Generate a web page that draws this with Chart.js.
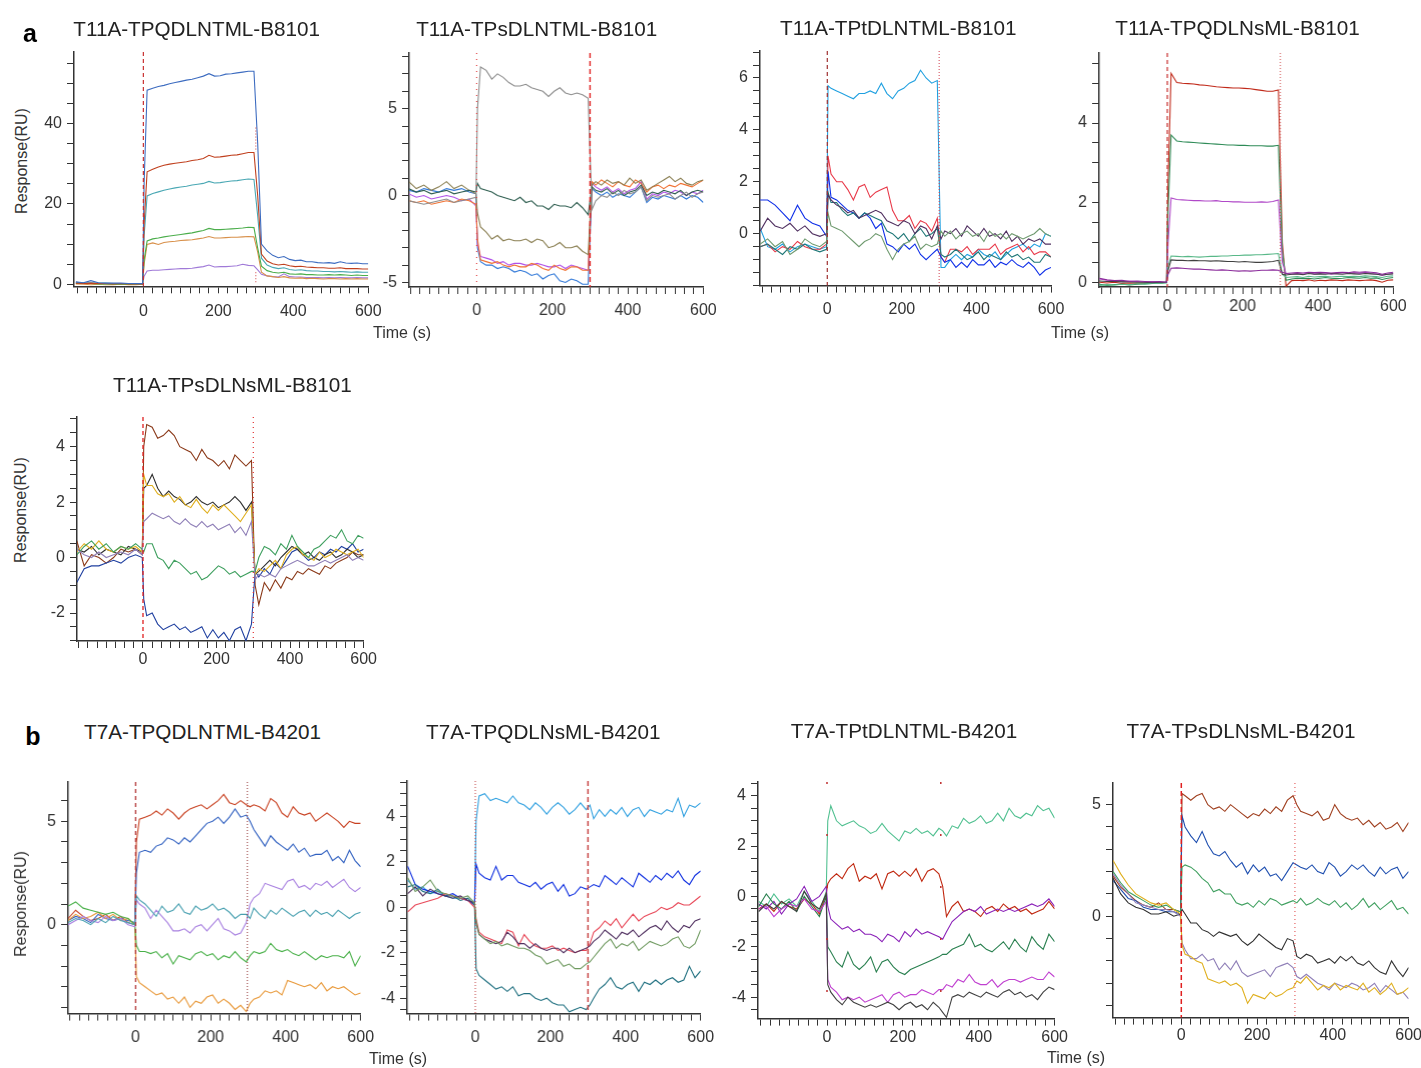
<!DOCTYPE html>
<html><head><meta charset="utf-8">
<script src="https://cdn.jsdelivr.net/npm/chart.js@4.4.1/dist/chart.umd.min.js"></script>
<style>
html,body{margin:0;padding:0;background:#fff;}
body{width:1421px;height:1068px;position:relative;overflow:hidden;font-family:'Liberation Sans',Arial,sans-serif;}
.panel{position:absolute;}
.txt{position:absolute;white-space:nowrap;color:#222;line-height:1;transform:translate(-50%,-50%);}
</style></head><body>
<script>
// ---------- shared time grid (s) ----------
const T = [-180,-160,-140,-120,-100,-80,-60,-40,-20,-2,
 2,10,25,40,55,70,85,100,115,130,145,160,175,190,205,220,235,250,265,280,295,
 305,315,330,345,360,375,390,405,420,435,450,465,480,495,510,525,540,555,570,585,600];
const xTickLabels = [0,200,400,600];

// ---------- a1: T11A-TPQDLNTML-B8101 ----------
const a1Blue = [0.6,0.4,0.9,0.4,0.3,0.3,0.3,0.2,0.2,0.2,
 25,48.3,48.8,49.2,49.5,49.9,50.2,50.5,50.8,51.0,51.4,51.8,52.4,51.8,51.9,52.3,52.4,52.6,52.8,53.0,53.0,
 35,10,8.3,7.2,6.6,6.9,6.2,5.9,6.0,5.6,5.6,5.4,5.3,5.4,5.2,5.6,5.3,5.2,5.3,5.1,5.1];
const a1Red = [0.3,0.2,0.3,0.2,0.2,0.1,0.2,0.1,0.1,0.1,
 15,28.0,28.6,29.2,29.6,29.9,30.1,30.3,30.5,30.8,31.0,31.3,32.1,31.6,31.7,31.9,32.1,32.2,32.5,32.8,32.8,
 22,7.5,5.8,5.1,4.8,5.0,4.6,4.4,4.5,4.3,4.2,4.1,4.1,4.0,4.0,4.1,3.9,3.9,3.9,3.8,3.8];
const a1Teal = [0.5,0.3,0.4,0.3,0.3,0.2,0.2,0.2,0.1,0.1,
 12,22.0,22.6,23.0,23.4,23.7,24.0,24.2,24.4,24.7,24.9,25.1,25.6,25.2,25.3,25.5,25.7,25.8,26.0,26.2,26.1,
 17,6.5,4.8,4.2,3.9,4.1,3.7,3.5,3.6,3.4,3.3,3.3,3.2,3.2,3.1,3.2,3.1,3.0,3.1,3.0,3.0];
const a1Green = [0.2,0.3,0.2,0.1,0.1,0.0,0.1,0.0,0.0,0.0,
 6,10.8,11.3,11.5,11.8,12.0,12.2,12.4,12.6,12.8,13.1,13.4,13.9,13.6,13.6,13.7,13.8,13.9,14.0,14.2,14.1,
 9,4.5,3.4,3.0,2.8,3.0,2.6,2.5,2.6,2.4,2.4,2.3,2.3,2.4,2.3,2.4,2.3,2.2,2.3,2.2,2.2];
const a1Orange = [0.1,0.0,-0.1,0.0,-0.1,-0.1,0.0,-0.1,-0.1,0.0,
 5,9.9,10.3,9.9,10.4,10.6,10.7,10.9,11.0,11.1,11.3,11.5,11.9,11.5,11.5,11.6,11.7,11.7,11.8,11.9,11.8,
 8,3.0,2.1,1.9,1.7,1.9,1.6,1.5,1.6,1.4,1.5,1.4,1.3,1.4,1.4,1.3,1.4,1.3,1.4,1.3,1.3];
const a1Purple = [0.4,0.2,0.3,0.0,0.1,0.1,0.0,0.0,0.0,0.0,
 2,3.3,3.5,3.5,3.6,3.7,3.8,3.9,3.9,4.0,4.2,4.4,4.8,4.3,4.4,4.4,4.5,4.6,5.0,4.7,4.6,
 3.6,2.5,2.1,1.9,1.8,2.6,1.9,1.8,1.8,1.7,1.7,1.7,1.6,1.7,1.6,1.7,1.6,1.6,1.7,1.6,1.6];
const a1YLabels = [0,20,40];

// ---------- a2: T11A-TPsDLNTML-B8101 ----------
const a2Gray = [-0.3,-0.4,-0.5,-0.4,-0.3,-0.2,-0.4,-0.3,-0.2,-0.1,
 5.0,7.4,7.2,6.7,7.0,6.8,6.5,6.3,6.3,6.4,6.2,6.1,6.0,5.7,6.0,6.2,5.9,5.8,5.9,5.8,5.6,
 -0.8,-0.3,0.0,-0.1,0.2,0.0,0.3,0.1,0.2,0.5,-0.3,0.0,-0.1,0.0,0.1,-0.2,0.0,0.2,-0.1,0.1,0.2];
const a2Teal = [0.4,0.2,0.3,0.1,0.2,0.3,0.1,0.2,0.3,0.2,
 0.7,0.4,0.3,0.2,0.0,-0.1,-0.2,-0.3,-0.1,-0.4,-0.3,-0.6,-0.6,-0.8,-0.5,-0.6,-0.6,-0.7,-0.4,-0.7,-1.1,
 0.5,0.3,0.2,0.4,0.1,0.3,0.0,0.2,0.3,0.6,0.0,0.2,0.1,0.3,0.2,0.1,0.3,0.0,0.2,0.3,0.2];
const a2Olive = [0.8,0.4,0.6,0.3,0.5,0.8,0.4,0.6,0.3,0.1,
 -1.0,-1.8,-2.1,-2.5,-2.3,-2.6,-2.5,-2.6,-2.6,-2.5,-2.7,-2.5,-2.6,-3.0,-2.9,-2.7,-3.0,-3.0,-2.9,-3.2,-3.4,
 0.6,0.8,0.6,0.9,0.7,0.8,0.6,1.0,0.7,0.9,0.3,0.5,0.7,0.9,1.1,0.8,1.0,0.7,0.6,0.8,0.9];
const a2Orange = [-0.3,-0.4,-0.3,-0.5,-0.4,-0.3,-0.4,-0.2,-0.3,-0.5,
 -2.5,-3.7,-3.8,-3.9,-3.8,-4.0,-4.1,-4.0,-4.1,-4.1,-3.9,-4.0,-4.2,-4.3,-4.0,-4.2,-4.3,-4.1,-4.1,-4.3,-4.3,
 0.8,0.6,0.9,0.7,0.5,0.8,0.6,0.5,0.9,0.7,0.2,0.5,0.6,0.4,0.6,0.5,0.7,0.6,0.5,0.7,0.9];
const a2Purple = [0.1,-0.1,0.0,-0.2,-0.1,0.0,-0.1,-0.3,-0.2,-0.6,
 -2.8,-3.5,-3.6,-3.7,-3.9,-3.8,-4.0,-3.9,-3.9,-4.0,-4.0,-3.9,-4.0,-4.1,-4.1,-4.0,-4.2,-4.0,-4.1,-4.2,-4.3,
 0.7,0.5,0.3,0.5,0.2,0.4,0.1,0.3,0.4,0.8,-0.2,0.1,0.0,0.2,0.1,0.3,0.2,0.0,0.2,0.1,0.3];
const a2Blue = [0.3,0.2,0.4,0.3,0.2,0.4,0.3,0.4,0.2,0.1,
 -3.0,-3.8,-4.0,-4.0,-4.2,-4.1,-4.2,-4.4,-4.3,-4.4,-4.6,-4.5,-4.8,-4.6,-4.5,-4.9,-5.0,-4.8,-4.9,-5.1,-5.1,
 0.4,0.2,0.0,0.2,-0.1,0.1,0.0,-0.1,0.2,0.5,-0.4,-0.1,-0.2,0.0,-0.1,-0.2,0.0,-0.2,0.0,-0.1,-0.4];
const a2YLabels = [-5,0,5];

// ---------- a3: T11A-TPtDLNTML-B8101 ----------
const a3LightBlue = [0.2,-0.5,-0.6,-0.4,-0.7,-0.5,-0.4,-0.5,-0.6,-0.5,
 5.7,5.6,5.5,5.4,5.3,5.2,5.4,5.4,5.5,5.4,5.8,5.4,5.2,5.5,5.6,5.8,5.9,6.3,6.0,5.8,5.9,
 -1.3,-1.3,-1.0,-0.8,-1.0,-0.8,-0.9,-0.6,-0.8,-0.9,-0.7,-1.0,-0.8,-0.6,-0.5,-0.4,-0.6,-0.4,-0.5,0.0,-0.1];
const a3Red = [-0.5,-0.4,-0.7,-0.5,-0.6,-0.3,-0.5,-0.6,-0.6,-0.4,
 3.0,2.3,2.0,2.0,1.7,1.3,1.8,1.9,1.4,1.6,1.7,1.8,0.9,0.5,0.5,0.7,0.2,0.5,0.4,0.1,0.6,
 -0.9,-1.1,-0.6,-0.6,-0.7,-0.5,-0.8,-0.6,-0.6,-0.6,-0.4,-0.8,-0.6,-0.5,-0.4,-0.7,-0.5,-0.8,-0.7,-0.7,-0.9];
const a3Blue = [1.3,1.3,1.1,0.8,0.5,1.1,0.6,0.4,0.3,-0.1,
 2.4,1.4,1.3,1.1,0.9,0.8,0.6,0.8,0.6,0.2,0.4,-0.4,-0.5,-0.7,-0.4,-0.6,-0.4,-0.8,-1.0,-0.8,-0.6,
 -0.9,-1.1,-1.0,-1.3,-1.1,-1.3,-1.0,-1.2,-1.2,-1.0,-1.3,-1.1,-1.2,-1.0,-1.2,-1.3,-1.1,-1.3,-1.6,-1.4,-1.3];
const a3Plum = [0.1,0.6,0.3,0.2,0.4,0.1,0.3,0.0,-0.1,0.0,
 1.5,1.3,1.1,1.0,0.8,0.9,0.6,0.7,0.8,0.9,0.8,0.5,0.4,0.3,0.5,0.4,0.0,0.3,0.2,-0.2,0.3,
 -0.2,0.1,0.0,0.2,-0.1,0.3,0.1,-0.1,0.2,-0.1,0.0,-0.2,0.1,-0.3,-0.1,-0.4,-0.2,-0.3,-0.2,-0.4,-0.4];
const a3Teal = [-0.5,-0.4,-0.6,-0.8,-0.5,-0.6,-0.4,-0.6,-0.7,-0.6,
 1.6,1.2,1.2,0.9,0.7,0.8,0.6,0.8,0.7,0.6,0.5,0.1,0.0,-0.2,0.0,-0.3,0.0,0.2,-0.1,0.0,0.2,
 -0.8,-0.9,-0.8,-0.6,-0.8,-1.0,-0.9,-0.7,-1.0,-0.8,-0.9,-1.0,-0.7,-0.9,-0.8,-1.0,-0.9,-1.1,-1.1,-0.8,-0.9];
const a3Sage = [-0.4,-0.2,-0.5,-0.3,-0.8,-0.6,-0.2,-0.4,-0.5,-0.3,
 0.8,0.3,0.2,0.1,-0.1,-0.3,-0.5,-0.3,-0.2,0.0,-0.1,-0.6,-1.0,-0.6,-0.4,-0.3,-0.1,-0.6,-0.4,-0.5,-0.4,
 0.1,-0.1,0.1,-0.2,0.0,0.1,-0.1,0.0,-0.3,0.1,-0.1,0.0,-0.2,0.0,-0.1,-0.2,-0.1,0.0,0.2,0.0,-0.1];
const a3YLabels = [0,2,4,6];

// ---------- a4: T11A-TPQDLNsML-B8101 ----------
const a4Red = [0.0,-0.02,0.0,-0.03,-0.02,-0.03,-0.02,0.0,-0.02,0.0,
 2.5,5.25,5.02,5.0,4.99,4.98,4.96,4.95,4.93,4.91,4.9,4.89,4.88,4.88,4.87,4.86,4.84,4.82,4.8,4.8,4.83,
 1.0,-0.1,0.04,0.05,0.04,0.06,0.03,0.05,0.04,0.06,0.05,0.04,0.06,0.05,0.04,0.05,0.06,0.04,0.0,0.05,0.06];
const a4Green = [-0.05,-0.08,-0.06,-0.05,-0.07,-0.05,-0.04,-0.03,-0.02,0.0,
 1.8,3.7,3.55,3.53,3.52,3.51,3.5,3.49,3.48,3.47,3.46,3.45,3.45,3.44,3.44,3.43,3.43,3.43,3.42,3.42,3.44,
 0.8,0.05,0.08,0.1,0.09,0.1,0.08,0.1,0.12,0.1,0.09,0.1,0.12,0.11,0.1,0.12,0.1,0.11,0.07,0.1,0.12];
const a4Magenta = [0.08,0.05,0.04,0.02,0.03,0.02,0.0,0.01,0.0,0.0,
 1.0,2.12,2.08,2.07,2.06,2.05,2.05,2.04,2.04,2.05,2.03,2.03,2.02,2.02,2.01,2.01,2.01,2.02,2.01,2.03,2.07,
 0.5,0.22,0.2,0.22,0.2,0.24,0.21,0.22,0.23,0.2,0.22,0.24,0.22,0.23,0.22,0.24,0.22,0.21,0.17,0.2,0.22];
const a4Mint = [-0.08,-0.06,-0.07,-0.05,-0.06,-0.04,-0.05,-0.03,-0.03,-0.02,
 0.4,0.66,0.65,0.64,0.65,0.64,0.63,0.64,0.65,0.65,0.66,0.66,0.67,0.67,0.68,0.68,0.69,0.69,0.7,0.71,0.72,
 0.2,0.12,0.13,0.14,0.12,0.15,0.13,0.14,0.15,0.13,0.14,0.15,0.14,0.15,0.14,0.16,0.15,0.14,0.12,0.15,0.16];
const a4Gray = [0.03,0.02,0.02,0.01,0.01,0.0,0.0,-0.01,0.0,0.0,
 0.3,0.56,0.55,0.55,0.54,0.55,0.54,0.54,0.53,0.54,0.53,0.52,0.52,0.51,0.52,0.51,0.5,0.5,0.51,0.52,0.55,
 0.2,0.18,0.2,0.21,0.19,0.22,0.2,0.21,0.2,0.22,0.21,0.2,0.22,0.21,0.2,0.22,0.21,0.2,0.18,0.2,0.21];
const a4Purple = [0.1,0.06,0.04,0.05,0.02,0.03,0.02,0.01,0.02,0.0,
 0.2,0.35,0.36,0.35,0.34,0.33,0.33,0.32,0.31,0.3,0.31,0.3,0.29,0.28,0.29,0.28,0.29,0.3,0.3,0.31,0.3,
 0.25,0.22,0.23,0.24,0.23,0.25,0.24,0.25,0.24,0.23,0.24,0.25,0.24,0.26,0.25,0.26,0.25,0.24,0.2,0.23,0.25];
const a4YLabels = [0,2,4];

// ---------- a5: T11A-TPsDLNsML-B8101 ----------
const a5Brown = [0.6,-0.3,0.1,0.0,-0.2,0.0,0.3,0.2,0.3,0.1,
 4.0,4.8,4.7,4.3,4.4,4.6,4.4,4.0,3.9,3.8,3.5,3.9,3.6,3.5,3.3,3.5,3.2,3.7,3.5,3.3,3.5,
 -1.0,-1.7,-0.9,-1.2,-0.8,-1.1,-0.7,-0.8,-0.5,-0.6,-0.4,-0.5,-0.6,-0.3,-0.4,-0.2,-0.1,0.0,0.2,0.1,0.1];
const a5Black = [0.3,0.2,0.4,0.1,0.3,0.2,0.1,0.4,0.3,0.2,
 2.5,2.6,3.0,2.5,2.2,2.4,2.2,2.1,1.9,2.0,2.2,2.0,1.9,2.0,1.8,1.9,2.0,2.2,2.0,1.7,2.0,
 -0.6,-0.5,-0.3,-0.1,-0.3,0.0,0.2,0.4,0.3,0.1,0.2,0.0,-0.1,0.1,0.2,0.0,0.1,0.3,0.2,0.0,0.1];
const a5Yellow = [0.2,0.5,0.3,0.6,0.3,0.2,0.4,0.3,0.4,0.2,
 3.0,2.6,2.6,2.3,2.2,2.3,2.0,2.2,1.9,1.8,2.1,1.8,1.6,1.9,1.7,1.9,1.7,1.5,1.3,1.6,1.9,
 -0.6,-0.4,-0.5,-0.3,-0.1,-0.4,0.1,0.3,0.4,0.1,0.0,-0.1,0.2,0.0,0.1,0.3,0.2,0.1,0.2,0.3,0.0];
const a5Lavender = [0.3,0.1,0.0,0.2,0.0,0.1,0.2,0.1,0.3,0.1,
 1.3,1.4,1.6,1.5,1.4,1.5,1.3,1.2,1.4,1.2,1.1,1.3,1.1,1.2,1.0,1.1,1.2,0.9,1.1,0.8,1.3,
 -0.8,-0.6,-0.7,-0.6,-0.7,-0.4,-0.3,-0.2,-0.1,-0.2,-0.3,-0.3,-0.2,-0.1,-0.2,-0.1,0.0,0.1,-0.1,0.0,-0.1];
const a5Green = [0.1,0.4,0.6,0.3,0.5,0.2,0.4,0.3,0.5,0.3,
 0.2,0.5,0.5,0.0,-0.1,-0.4,-0.1,-0.2,-0.4,-0.6,-0.5,-0.8,-0.7,-0.5,-0.3,-0.4,-0.6,-0.5,-0.7,-0.6,-0.5,
 -0.5,0.0,0.4,0.3,0.1,0.5,0.3,0.8,0.4,0.2,0.0,0.3,0.4,0.6,0.8,0.7,1.0,0.6,0.5,0.8,0.7];
const a5Navy = [-0.9,-0.4,-0.3,-0.3,-0.2,-0.1,-0.2,0.0,0.1,0.0,
 -1.5,-2.1,-2.0,-2.4,-2.6,-2.5,-2.4,-2.6,-2.5,-2.7,-2.6,-2.5,-2.9,-2.6,-2.9,-2.7,-3.0,-2.6,-2.5,-3.0,-2.4,
 -0.5,-0.7,-0.4,-0.6,-0.2,-0.4,-0.1,0.2,0.3,0.1,-0.1,0.0,0.2,0.1,0.3,0.2,0.4,0.3,0.5,0.2,0.3];
const a5YLabels = [-2,0,2,4];

// ---------- b1: T7A-TPQDLNTML-B4201 ----------
const b1Red = [0.3,0.7,0.4,0.2,0.3,0.5,0.2,0.4,0.1,0.0,
 4.0,5.1,5.2,5.3,5.5,5.3,5.6,5.4,5.1,5.4,5.6,5.7,5.8,5.6,5.8,6.0,6.3,5.9,5.8,6.0,5.8,
 5.7,5.8,5.7,5.5,6.1,5.9,5.4,5.2,5.7,5.4,5.3,5.4,5.0,5.2,5.4,5.2,5.0,4.7,5.0,4.9,4.9];
const b1Blue = [0.2,0.4,0.3,0.1,0.5,0.3,0.2,0.3,0.2,0.1,
 2.5,3.5,3.6,3.5,3.8,3.9,4.2,4.1,3.9,4.2,4.0,4.3,4.6,4.9,5.0,5.2,4.9,5.2,5.6,5.2,5.3,
 5.0,4.6,4.2,3.8,4.3,4.0,3.8,3.6,3.9,3.5,3.7,3.3,3.4,3.4,3.6,3.1,3.3,3.0,3.6,3.1,2.8];
const b1Teal = [0.1,0.3,0.2,0.0,0.3,0.1,0.4,0.2,0.1,0.0,
 1.4,1.2,1.0,0.7,0.4,0.9,0.6,0.7,1.0,0.6,0.5,0.9,0.7,0.8,1.0,0.7,0.8,0.6,0.3,0.5,0.5,
 0.3,0.8,0.5,0.3,0.7,0.5,0.8,0.6,0.4,0.6,0.7,0.4,0.7,0.5,0.6,0.4,0.7,0.5,0.3,0.5,0.6];
const b1Lavender = [0.0,0.2,0.4,0.2,0.1,0.4,0.2,0.3,0.0,-0.1,
 1.2,1.0,0.8,0.3,0.7,0.4,0.1,-0.3,-0.3,-0.2,-0.4,-0.1,0.0,-0.3,0.0,0.3,-0.2,-0.3,-0.5,-0.4,0.1,
 1.0,1.3,1.5,2.0,1.9,1.8,1.7,2.1,2.2,1.8,1.9,1.7,2.0,1.9,2.1,1.8,2.0,2.2,1.8,1.6,1.8];
const b1Green = [0.9,1.1,0.8,0.7,0.6,0.5,0.6,0.4,0.3,0.0,
 -1.0,-1.3,-1.3,-1.4,-1.3,-1.6,-1.4,-1.9,-1.5,-1.6,-1.7,-1.4,-1.3,-1.5,-1.4,-1.7,-1.5,-1.6,-1.3,-1.6,-1.8,
 -1.5,-1.3,-1.4,-1.3,-0.9,-1.2,-1.3,-1.2,-1.4,-1.5,-1.3,-1.5,-1.7,-1.5,-1.6,-1.5,-1.5,-1.6,-1.3,-2.0,-1.5];
const b1Orange = [0.2,0.5,0.3,0.4,0.6,0.3,0.5,0.2,0.3,0.0,
 -2.5,-2.8,-3.0,-3.2,-3.4,-3.3,-3.6,-3.5,-3.8,-3.5,-4.0,-3.7,-3.8,-3.5,-3.4,-3.8,-3.6,-3.8,-4.1,-3.9,-4.2,
 -3.8,-3.6,-3.5,-3.2,-3.3,-3.2,-3.4,-2.7,-2.8,-2.9,-3.0,-2.9,-3.1,-2.8,-3.2,-3.0,-3.1,-3.0,-3.2,-3.4,-3.3];
const b1YLabels = [0,5];

// ---------- b2: T7A-TPQDLNsML-B4201 ----------
const b2LightBlue = [1.2,0.8,0.9,0.6,0.7,0.5,0.4,0.4,0.3,0.2,
 3.8,4.9,5.0,4.7,4.8,4.7,4.6,4.9,4.6,4.5,4.3,4.6,4.4,4.1,4.4,4.6,4.4,4.1,4.3,4.6,4.3,
 4.5,3.9,4.3,4.0,4.3,4.1,4.4,4.0,4.3,4.4,4.0,4.3,4.2,4.1,4.3,4.2,4.8,4.0,4.5,4.4,4.6];
const b2Blue = [1.8,1.0,0.8,0.7,0.6,0.5,0.6,0.4,0.3,0.1,
 1.9,1.5,1.3,1.2,1.8,1.2,1.4,1.4,1.1,1.0,0.9,1.1,0.8,1.0,1.1,0.7,1.0,0.5,0.6,0.9,0.8,
 0.9,1.0,0.9,1.4,1.2,1.0,1.3,1.1,0.9,1.5,1.3,1.1,1.4,1.2,1.5,1.3,1.6,1.2,1.0,1.4,1.6];
const b2Red = [-0.2,0.1,0.2,0.3,0.4,0.6,0.5,0.4,0.3,0.0,
 -0.5,-1.1,-1.3,-1.4,-1.5,-1.6,-1.0,-1.1,-1.7,-1.2,-1.5,-1.7,-1.8,-1.8,-1.7,-1.9,-1.8,-1.9,-2.0,-1.9,-1.9,
 -1.6,-1.1,-0.9,-0.6,-0.8,-0.5,-0.9,-0.6,-0.3,-0.6,-0.4,-0.3,-0.2,0.0,-0.1,0.0,0.2,0.1,0.1,0.3,0.5];
const b2Plum = [0.6,0.9,0.5,0.8,0.6,0.5,0.4,0.5,0.3,0.2,
 -0.7,-1.2,-1.4,-1.5,-1.6,-1.5,-1.1,-1.3,-1.6,-1.6,-1.8,-1.6,-1.8,-1.9,-1.8,-1.8,-2.0,-1.8,-2.0,-1.9,-1.8,
 -1.7,-1.5,-1.3,-1.0,-1.2,-1.4,-1.1,-1.2,-1.0,-1.3,-1.1,-0.9,-0.8,-1.0,-0.6,-0.9,-1.1,-0.8,-0.9,-0.6,-0.5];
const b2Sage = [1.3,0.7,0.9,1.2,0.7,0.6,0.5,0.4,0.5,0.2,
 -0.6,-1.2,-1.4,-1.6,-1.5,-1.7,-1.6,-1.7,-1.8,-1.8,-1.9,-2.1,-2.2,-2.5,-2.4,-2.3,-2.6,-2.5,-2.7,-2.7,-2.5,
 -2.4,-2.2,-1.9,-1.6,-1.4,-1.8,-1.6,-1.7,-1.5,-1.9,-1.7,-1.5,-1.6,-1.7,-1.6,-1.4,-1.3,-1.7,-1.8,-1.6,-1.0];
const b2Teal = [0.9,1.0,0.7,0.6,0.8,0.5,0.5,0.3,0.4,0.1,
 -2.7,-3.0,-3.2,-3.4,-3.6,-3.5,-3.7,-3.5,-3.9,-3.8,-3.8,-4.0,-4.1,-4.0,-4.2,-4.3,-4.3,-4.6,-4.5,-4.4,-4.5,
 -4.3,-4.0,-3.6,-3.4,-3.1,-3.5,-3.6,-3.4,-3.3,-3.7,-3.3,-3.4,-3.2,-3.4,-3.2,-3.1,-3.3,-3.2,-2.6,-3.1,-2.8];
const b2YLabels = [-4,-2,0,2,4];

// ---------- b3: T7A-TPtDLNTML-B4201 ----------
const b3Mint = [-0.2,-0.4,0.1,-0.3,-0.1,-0.4,0.2,-0.2,-0.6,0.2,
 3.0,3.6,3.0,2.8,2.9,3.0,2.8,2.7,2.5,2.6,2.9,2.6,2.4,2.2,2.6,2.5,2.7,2.5,2.6,2.4,2.7,
 2.6,2.4,2.8,2.7,3.1,2.9,3.0,3.2,2.9,3.0,3.3,3.0,3.5,3.2,3.1,3.3,3.2,3.6,3.4,3.5,3.1];
const b3Red = [-0.5,-0.3,-0.6,-0.2,-0.4,-0.5,-0.1,-0.3,-0.7,0.1,
 0.5,0.7,0.9,0.7,1.1,1.3,0.6,0.8,0.7,0.9,0.3,0.9,1.0,0.8,1.0,0.8,1.1,0.6,1.0,1.1,0.9,
 0.4,-0.8,-0.4,-0.2,-0.6,-0.5,-0.6,-0.8,-0.5,-0.4,-0.6,-0.3,-0.5,-0.4,-0.6,-0.5,-0.7,-0.6,-0.5,-0.2,-0.5];
const b3Purple = [-0.3,-0.5,-0.2,-0.7,-0.3,-0.1,0.4,-0.2,0.0,0.4,
 -0.4,-0.9,-1.1,-1.3,-1.2,-1.4,-1.3,-1.5,-1.5,-1.6,-1.8,-1.5,-1.6,-1.8,-1.4,-1.6,-1.3,-1.5,-1.4,-1.5,-1.6,
 -1.7,-1.4,-1.0,-0.8,-0.6,-0.5,-0.6,-0.4,-0.7,-0.6,-0.5,-0.6,-0.5,-0.6,-0.5,-0.4,-0.3,-0.4,-0.3,-0.1,-0.4];
const b3DarkGreen = [-0.4,0.1,-0.3,-0.5,-0.2,-0.6,0.0,-0.4,-0.8,0.0,
 -2.0,-2.2,-2.6,-2.8,-2.2,-2.7,-2.9,-2.7,-2.4,-3.0,-2.6,-2.5,-2.8,-3.0,-3.1,-2.9,-2.8,-2.7,-2.6,-2.5,-2.4,
 -2.3,-2.3,-2.1,-2.0,-1.9,-1.5,-2.0,-1.9,-2.1,-2.2,-2.0,-1.8,-2.1,-1.7,-2.0,-2.2,-1.6,-1.9,-2.1,-1.5,-1.8];
const b3Magenta = [-0.5,-0.4,-0.8,-0.5,-0.3,-0.4,-0.1,-0.5,-0.6,-0.2,
 -3.3,-3.6,-3.8,-4.1,-4.0,-4.1,-4.0,-4.2,-4.1,-4.0,-3.9,-4.2,-3.9,-3.8,-4.0,-3.9,-3.9,-3.7,-3.8,-3.9,-3.7,
 -3.7,-3.5,-3.6,-3.3,-3.4,-3.1,-3.4,-3.5,-3.5,-3.3,-3.6,-3.4,-3.3,-3.3,-3.4,-3.3,-3.2,-3.3,-3.3,-3.0,-3.2];
const b3Gray = [-0.6,-0.3,-0.5,-0.2,-0.4,-0.6,0.2,-0.3,-0.5,0.1,
 -3.5,-3.8,-4.1,-4.3,-4.0,-4.2,-4.3,-4.4,-4.3,-4.4,-4.3,-4.2,-4.3,-4.5,-4.3,-4.2,-4.4,-4.3,-4.5,-4.2,-4.4,
 -4.6,-4.8,-4.0,-3.9,-4.0,-3.8,-3.9,-4.0,-3.8,-3.9,-4.0,-3.8,-3.7,-3.9,-3.8,-4.0,-3.9,-4.1,-3.8,-3.6,-3.7];
const b3YLabels = [-4,-2,0,2,4];

// ---------- b4: T7A-TPsDLNsML-B4201 ----------
const b4Brown = [1.8,1.3,1.0,0.7,0.5,0.4,0.6,0.3,0.3,0.2,
 5.5,5.4,5.2,5.4,5.5,5.0,4.8,4.9,4.7,5.0,4.8,4.6,4.4,4.6,4.5,4.8,4.6,4.9,4.7,5.2,5.4,
 5.0,4.7,4.6,4.5,4.7,4.3,4.4,5.0,4.6,4.4,4.3,4.4,4.1,4.3,4.0,4.2,3.9,4.0,4.2,3.8,4.2];
const b4Blue = [1.6,1.2,0.8,0.7,0.4,0.3,0.3,0.2,0.2,0.1,
 4.5,4.0,3.6,3.3,3.8,3.2,2.8,2.7,2.9,2.5,2.2,2.4,1.9,2.3,2.0,2.2,1.8,1.9,1.6,2.0,2.4,
 2.3,2.2,2.1,2.3,2.0,1.9,2.4,2.2,1.8,2.0,2.3,2.1,2.3,2.0,1.8,2.2,1.9,2.1,2.2,1.7,2.0];
const b4Green = [2.0,1.5,1.1,0.9,0.7,0.5,0.4,0.5,0.3,0.2,
 2.2,2.3,2.2,2.0,1.7,1.5,1.1,1.2,1.0,1.0,0.6,0.5,0.6,0.4,0.7,0.5,0.8,0.7,0.5,0.6,0.7,
 0.6,0.8,0.5,0.6,0.8,0.6,0.5,0.7,0.4,0.6,0.3,0.5,0.8,0.4,0.6,0.3,0.5,0.7,0.3,0.4,0.1];
const b4Black = [1.7,1.0,0.6,0.4,0.3,0.1,0.1,0.2,0.0,0.1,
 0.3,0.1,-0.3,-0.3,-0.6,-0.7,-0.9,-0.7,-0.8,-0.9,-0.8,-1.1,-1.3,-1.1,-0.8,-1.0,-1.2,-1.4,-1.5,-1.0,-1.1,
 -1.8,-1.9,-1.7,-1.8,-2.1,-2.0,-1.9,-2.1,-1.8,-2.0,-1.8,-2.1,-2.2,-2.0,-2.3,-2.5,-2.6,-2.0,-2.4,-2.7,-2.3];
const b4Lavender = [1.9,1.4,1.0,0.6,0.5,0.4,0.3,0.3,0.2,0.0,
 -1.2,-1.5,-1.9,-1.9,-1.7,-2.0,-1.9,-2.4,-2.1,-2.4,-2.0,-2.5,-2.7,-2.6,-2.5,-2.4,-2.7,-2.3,-2.2,-2.1,-2.3,
 -2.7,-2.8,-2.6,-2.8,-3.0,-3.1,-3.3,-3.0,-3.1,-3.2,-3.0,-3.1,-3.3,-3.2,-3.0,-3.4,-3.1,-3.3,-3.5,-3.4,-3.7];
const b4Yellow = [2.5,1.9,1.4,1.0,0.8,0.6,0.5,0.6,0.3,0.1,
 -1.3,-1.7,-1.8,-2.0,-2.1,-2.8,-2.9,-3.0,-2.9,-3.1,-3.0,-3.2,-3.9,-3.5,-3.6,-3.7,-3.4,-3.6,-3.5,-3.3,-3.2,
 -2.9,-3.0,-2.7,-3.0,-3.3,-3.1,-3.2,-3.0,-3.3,-3.1,-3.2,-3.3,-3.0,-3.4,-3.2,-3.5,-3.3,-3.0,-3.5,-3.4,-3.2];
const b4YLabels = [0,5];

// ---------- panel assembly (styles/layout kept separate from data) ----------
const FONT = "'Liberation Sans', Arial, sans-serif";
Chart.defaults.font.family = FONT;

const panels = [
 {title:'T11A-TPQDLNTML-B8101', box:{L:74,R:368.3,T:51.7,B:286}, xPad:9, xMin:-185, yMin:-0.5, yMax:57.8, yStep:5, yLabels:a1YLabels,
  series:[['a1Blue',a1Blue,'#3d6cc0'],['a1Red',a1Red,'#c0401e'],['a1Teal',a1Teal,'#4aa8b4'],['a1Green',a1Green,'#4cae4c'],['a1Orange',a1Orange,'#d8904a'],['a1Purple',a1Purple,'#a07ad8']],
  markers:[{x:0,dash:[4,3],color:'#c83030',w:1.2},{x:300,dash:[1,2],color:'#d04040',w:1,y0:33,y1:39},{x:300,dash:[1,2],color:'#d04040',w:1,y0:0.5,y1:3}]},
 {title:'T11A-TPsDLNTML-B8101', box:{L:409.3,R:702.7,T:53.3,B:287.3}, xPad:7, xMin:-179, yMin:-5.26, yMax:8.2, yStep:1, yLabels:a2YLabels,
  series:[['a2Gray',a2Gray,'#8c8c8c'],['a2Teal',a2Teal,'#2f5e50'],['a2Olive',a2Olive,'#8a7f52'],['a2Orange',a2Orange,'#f07030'],['a2Purple',a2Purple,'#b050e8'],['a2Blue',a2Blue,'#3078d8']],
  markers:[{x:0,dash:[1,5],color:'#e04040',w:1.2},{x:300,dash:[5,3],color:'#e02020',w:1.4}]},
 {title:'T11A-TPtDLNTML-B8101', box:{L:760,R:1051,T:50.7,B:285.3}, xPad:7, xMin:-180.5, yMin:-2.0, yMax:7.04, yStep:0.5, yLabels:a3YLabels,
  series:[['a3Sage',a3Sage,'#6f9a6f'],['a3Plum',a3Plum,'#503060'],['a3Teal',a3Teal,'#207878'],['a3Blue',a3Blue,'#1030e8'],['a3Red',a3Red,'#e83848'],['a3LightBlue',a3LightBlue,'#20a0e0']],
  markers:[{x:0,dash:[4,3],color:'#a03030',w:1.2},{x:300,dash:[1,2],color:'#d04050',w:1}]},
 {title:'T11A-TPQDLNsML-B8101', box:{L:1099.3,R:1392.7,T:53.3,B:287.3}, xPad:3, xMin:-181, yMin:-0.12, yMax:5.76, yStep:0.5, yLabels:a4YLabels,
  series:[['a4Purple',a4Purple,'#8a2a9a'],['a4Gray',a4Gray,'#404040'],['a4Mint',a4Mint,'#58b888'],['a4Magenta',a4Magenta,'#b048c8'],['a4Green',a4Green,'#2e8b57'],['a4Red',a4Red,'#c02818']],
  markers:[{x:0,dash:[4,3],color:'#c83030',w:1.2},{x:300,dash:[1,2],color:'#d05050',w:1}]},
 {title:'T11A-TPsDLNsML-B8101', box:{L:76.7,R:363.3,T:416.7,B:640.7}, xPad:2, xMin:-179.5, yMin:-3.01, yMax:5.07, yStep:0.5, yLabels:a5YLabels,
  series:[['a5Lavender',a5Lavender,'#9080b8'],['a5Green',a5Green,'#40a060'],['a5Yellow',a5Yellow,'#e0b020'],['a5Black',a5Black,'#303030'],['a5Navy',a5Navy,'#2040a0'],['a5Brown',a5Brown,'#8b3a1a']],
  markers:[{x:0,dash:[4,3],color:'#e02020',w:1.3},{x:300,dash:[1,4],color:'#e03030',w:1.2}]},
 {title:'T7A-TPQDLNTML-B4201', box:{L:68.3,R:360,T:781.7,B:1013.3}, xPad:7, xMin:-180, yMin:-4.3, yMax:6.9, yStep:1, yLabels:b1YLabels,
  series:[['b1Teal',b1Teal,'#48a0b0'],['b1Lavender',b1Lavender,'#a880e0'],['b1Green',b1Green,'#48b048'],['b1Orange',b1Orange,'#e89838'],['b1Blue',b1Blue,'#3060c0'],['b1Red',b1Red,'#c84020']],
  markers:[{x:0,dash:[4,3],color:'#b03030',w:1.2},{x:298,dash:[1,2],color:'#903030',w:1}]},
 {title:'T7A-TPQDLNsML-B4201', box:{L:407.3,R:700,T:780.7,B:1013.3}, xPad:7, xMin:-181.6, yMin:-4.68, yMax:5.56, yStep:0.5, yLabels:b2YLabels,
  series:[['b2Sage',b2Sage,'#6f9a60'],['b2Plum',b2Plum,'#503060'],['b2Red',b2Red,'#e84858'],['b2Teal',b2Teal,'#207080'],['b2Blue',b2Blue,'#1030e0'],['b2LightBlue',b2LightBlue,'#30a0e0']],
  markers:[{x:0,dash:[1,2],color:'#c04040',w:1},{x:300,dash:[5,3],color:'#c84848',w:1.5}]},
 {title:'T7A-TPtDLNTML-B4201', box:{L:757.7,R:1054.3,T:781.7,B:1018.3}, xPad:2, xMin:-181.9, yMin:-4.85, yMax:4.54, yStep:0.5, yLabels:b3YLabels,
  series:[['b3Gray',b3Gray,'#404040'],['b3Magenta',b3Magenta,'#c040d0'],['b3DarkGreen',b3DarkGreen,'#2a8050'],['b3Purple',b3Purple,'#8a20b8'],['b3Red',b3Red,'#c02810'],['b3Mint',b3Mint,'#50c090']],
  markers:[{x:0,dash:[2,50],color:'#c03030',w:1.5},{x:300,dash:[2,50],color:'#c03030',w:1.5}]},
 {title:'T7A-TPsDLNsML-B4201', box:{L:1112.7,R:1408.3,T:782.7,B:1017.3}, xPad:1, xMin:-180.3, yMin:-4.54, yMax:5.97, yStep:1, yLabels:b4YLabels,
  series:[['b4Yellow',b4Yellow,'#e0b020'],['b4Lavender',b4Lavender,'#9080b8'],['b4Black',b4Black,'#303030'],['b4Green',b4Green,'#40a060'],['b4Blue',b4Blue,'#2050b0'],['b4Brown',b4Brown,'#a04020']],
  markers:[{x:0,dash:[5,3],color:'#e02020',w:1.5},{x:300,dash:[1,3],color:'#e04040',w:1}]}
];

const titlePos = [[196.7,29],[536.7,28.5],[898.3,28],[1237.5,28],[232.5,385],[202.5,731.5],[543.3,731.5],[904,731],[1241,731]];

const markerPlugin = {
  id:'markers',
  afterDatasetsDraw(chart, args, opts){
    const {ctx, chartArea:a, scales:{x, y}} = chart;
    (opts.lines||[]).forEach(m=>{
      const px = x.getPixelForValue(m.x);
      const top = m.y1 !== undefined ? y.getPixelForValue(m.y1) : a.top;
      const bot = m.y0 !== undefined ? y.getPixelForValue(m.y0) : a.bottom;
      ctx.save(); ctx.strokeStyle = m.color; ctx.lineWidth = m.w; ctx.setLineDash(m.dash);
      ctx.beginPath(); ctx.moveTo(px, top); ctx.lineTo(px, bot); ctx.stroke(); ctx.restore();
    });
  }
};

const PADL=44, PADR=24, PADT=22, PADB=44;

function stepTicks(min, max, step){
  const out=[]; for(let k=Math.ceil(min/step-1e-9); k*step<=max+1e-9; k++){ out.push(+(k*step).toFixed(3)); } return out;
}

panels.forEach((p, idx)=>{
  p.series.forEach(s=>{ if(s[1].length!==T.length) throw new Error(s[0]+' has '+s[1].length+' values, expected '+T.length); });
  const b = p.box;
  const div = document.createElement('div');
  div.className='panel';
  div.style.left=(b.L-PADL)+'px'; div.style.top=(b.T-PADT)+'px';
  div.style.width=(b.R-b.L+PADL+PADR)+'px'; div.style.height=(b.B-b.T+PADT+PADB)+'px';
  const cv=document.createElement('canvas'); div.appendChild(cv); document.body.appendChild(div);
  const xt = stepTicks(-175, 600, 25).filter(v=>v>=p.xMin);
  const yt = stepTicks(p.yMin, p.yMax, p.yStep);
  const grid = {drawOnChartArea:false, drawTicks:true, tickLength:7, tickColor:'#333', tickWidth:1, color:'#333'};
  const border = {display:true, color:'#333', width:1.5};
  new Chart(cv, {
    type:'line',
    data:{datasets:p.series.map(s=>({label:s[0], data:T.map((t,i)=>({x:t,y:s[1][i]})), borderColor:s[2], borderWidth:1.1, pointRadius:0, tension:0, fill:false}))},
    options:{
      responsive:true, maintainAspectRatio:false, animation:false, devicePixelRatio:1,
      layout:{padding:{left:0,right:PADR,top:PADT,bottom:0}},
      plugins:{legend:{display:false}, tooltip:{enabled:false}, markers:{lines:p.markers}},
      scales:{
        x:{type:'linear', min:p.xMin, max:600, grid, border,
          afterFit:s=>{s.height=PADB;},
          afterBuildTicks:s=>{s.ticks=xt.map(v=>({value:v}));},
          ticks:{autoSkip:false, maxRotation:0, minRotation:0, padding:p.xPad, color:'#333', font:{size:16, family:FONT},
            callback:v=> xTickLabels.includes(v)? String(v):''}},
        y:{type:'linear', min:p.yMin, max:p.yMax, grid, border,
          afterFit:s=>{s.width=PADL;},
          afterBuildTicks:s=>{s.ticks=yt.map(v=>({value:v}));},
          ticks:{autoSkip:false, padding:5, color:'#333', font:{size:16, family:FONT},
            callback:v=> p.yLabels.includes(v)? String(v):''}}
      }
    },
    plugins:[markerPlugin]
  });
  const t=document.createElement('div'); t.className='txt'; t.textContent=p.title;
  t.style.left=titlePos[idx][0]+'px'; t.style.top=titlePos[idx][1]+'px'; t.style.fontSize='20.7px';
  document.body.appendChild(t);
});

// other texts
function addText(txt, x, y, size, opts){
  const d=document.createElement('div'); d.className='txt'; d.textContent=txt;
  d.style.left=x+'px'; d.style.top=y+'px'; d.style.fontSize=size+'px';
  if(opts&&opts.bold) d.style.fontWeight='bold';
  if(opts&&opts.rot) d.style.transform='translate(-50%,-50%) rotate(-90deg)';
  if(opts&&opts.color) d.style.color=opts.color;
  document.body.appendChild(d);
}
addText('a', 30, 33, 25, {bold:true, color:'#000'});
addText('b', 33, 736, 25, {bold:true, color:'#000'});
addText('Response(RU)', 22, 161, 16, {rot:true, color:'#333'});
addText('Response(RU)', 21, 510, 16, {rot:true, color:'#333'});
addText('Response(RU)', 21, 904, 16, {rot:true, color:'#333'});
addText('Time (s)', 402, 333, 16, {color:'#333'});
addText('Time (s)', 1080, 333, 16, {color:'#333'});
addText('Time (s)', 398, 1059, 16, {color:'#333'});
addText('Time (s)', 1076, 1058, 16, {color:'#333'});
</script>
</body></html>
